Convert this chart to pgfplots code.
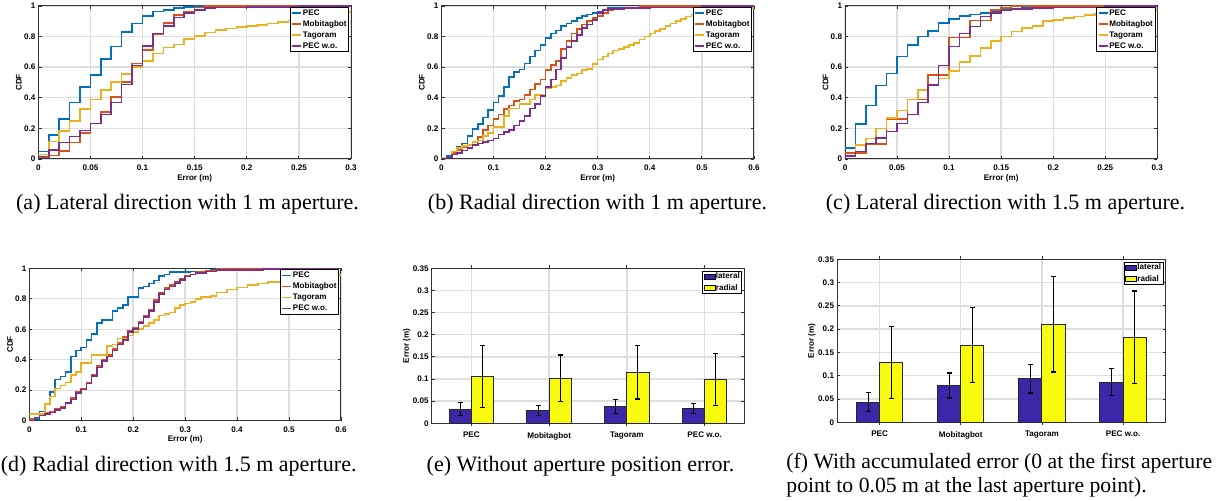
\documentclass[border=0pt]{standalone}
\usepackage{fontspec}
\setmainfont{Liberation Serif}
\newfontfamily\pf{Liberation Sans}
\usepackage{pgfplots}
\pgfplotsset{compat=1.18}

\definecolor{mblue}{RGB}{0,114,189}
\definecolor{morange}{RGB}{217,83,25}
\definecolor{myellow}{RGB}{237,177,32}
\definecolor{mpurple}{RGB}{126,47,142}
\definecolor{pblue}{RGB}{62,38,168}
\definecolor{pyellow}{RGB}{249,251,14}

\newcommand\tf{\pf\bfseries\fontsize{4.05}{4.8}\selectfont}
\newcommand\cf{\fontsize{11}{13}\selectfont}

\pgfplotsset{
  mat/.style={scale only axis, anchor=south west,
    axis line style={black!80, line width=0.5pt},
    tick align=inside, major tick length=1.6pt,
    every tick/.style={black!80, line width=0.4pt},
    grid=major, grid style={black!13, line width=0.7pt},
    tick label style={font=\tf}, label style={font=\tf},
    xticklabel style={inner sep=0pt, yshift=-2.7pt},
    yticklabel style={inner sep=0pt, xshift=-1.3pt},
    legend cell align=left},
  cdf/.style={mat, ymin=0, ymax=1,
    ytick={0,0.2,0.4,0.6,0.8,1}, yticklabels={0,0.2,0.4,0.6,0.8,1},
    xlabel={Error (m)}, ylabel={CDF},
    xlabel style={at={(axis description cs:0.5,-0.124)}, anchor=center},
    ylabel style={at={(axis description cs:-0.062,0.5)}, anchor=center},
    legend style={at={(1,1)}, anchor=north east, xshift=-1pt, yshift=-0.5pt,
      draw=black, line width=0.4pt, inner sep=0.6pt, row sep=1.0pt, font=\tf,
      nodes={inner sep=0.4pt, text height=2.9pt, text depth=0.8pt}},
    legend image code/.code={\draw[#1, line width=0.7pt] (0pt,0pt) -- (4.5pt,0pt);},
    every axis plot/.append style={const plot, line width=0.8pt, no marks}},
  lat/.style={cdf, xmin=0, xmax=0.3,
    xtick={0,0.05,0.1,0.15,0.2,0.25,0.3}, xticklabels={0,0.05,0.1,0.15,0.2,0.25,0.3}},
  rad/.style={cdf, xmin=0, xmax=0.6,
    xtick={0,0.1,0.2,0.3,0.4,0.5,0.6}, xticklabels={0,0.1,0.2,0.3,0.4,0.5,0.6}},
  bars/.style={mat, ybar, ymin=0, ymax=0.35, bar width=0.285,
    ytick={0,0.05,0.1,0.15,0.2,0.25,0.3,0.35},
    yticklabels={0,0.05,0.1,0.15,0.2,0.25,0.3,0.35},
    xtick={1,2,3,4}, xticklabels={PEC,Mobitagbot,Tagoram,PEC w.o.},
    ylabel={Error (m)},
    legend style={at={(1,1)}, anchor=north east, xshift=-1.15pt, yshift=-1.35pt,
      draw=black, line width=0.4pt, inner sep=0.5pt, row sep=1.1pt, font=\tf,
      nodes={inner sep=0.4pt, text height=2.9pt, text depth=0.8pt}},
    every axis plot/.append style={draw=black!85, line width=0.5pt,
      error bars/y dir=both, error bars/y explicit,
      error bars/error mark=-,
      error bars/error bar style={black, line width=0.5pt},
      error bars/error mark options={rotate=90, black, line width=0.6pt, mark size=1.25pt}}},
  barleg/.style={legend image code/.code={\draw[#1, draw=black, line width=0.3pt] (0pt,-1.3pt) rectangle (5.5pt,1.3pt);}}
}

\begin{document}
\begin{tikzpicture}
\useasboundingbox (0,0) rectangle (608pt,250.5pt);

% (a)
\begin{axis}[lat, at={(19.15pt,171pt)}, width=156.35pt, height=76.5pt]
\addplot[mblue] coordinates {(0,0.048)(0.01,0.157)(0.02,0.26)(0.03,0.37)(0.04,0.47)(0.05,0.55)(0.06,0.655)(0.07,0.735)(0.08,0.83)(0.09,0.885)(0.10,0.935)(0.11,0.965)(0.12,0.975)(0.13,0.985)(0.14,0.995)(0.15,1)(0.3,1)};
\addplot[morange] coordinates {(0,0.01)(0.01,0.022)(0.02,0.052)(0.03,0.109)(0.04,0.168)(0.05,0.233)(0.06,0.309)(0.07,0.407)(0.08,0.505)(0.09,0.625)(0.10,0.712)(0.11,0.817)(0.12,0.887)(0.13,0.94)(0.14,0.965)(0.15,0.99)(0.16,1)(0.3,1)};
\addplot[myellow] coordinates {(0,0.03)(0.01,0.113)(0.02,0.183)(0.03,0.25)(0.04,0.327)(0.05,0.39)(0.06,0.45)(0.07,0.505)(0.08,0.556)(0.09,0.603)(0.10,0.64)(0.11,0.69)(0.12,0.728)(0.13,0.749)(0.14,0.784)(0.15,0.804)(0.16,0.828)(0.17,0.843)(0.18,0.852)(0.19,0.862)(0.20,0.87)(0.21,0.875)(0.22,0.885)(0.23,0.895)(0.24,0.905)(0.25,0.915)(0.26,0.93)(0.27,0.94)(0.28,0.95)(0.29,0.96)(0.3,0.97)};
\addplot[mpurple] coordinates {(0,0.015)(0.01,0.06)(0.02,0.107)(0.03,0.146)(0.04,0.185)(0.05,0.233)(0.06,0.29)(0.07,0.368)(0.08,0.486)(0.09,0.61)(0.10,0.739)(0.11,0.82)(0.12,0.871)(0.13,0.926)(0.14,0.956)(0.15,0.975)(0.16,0.985)(0.17,0.99)(0.2,0.995)(0.25,1)(0.3,1)};
\legend{PEC,Mobitagbot,Tagoram,PEC w.o.}
\end{axis}

% (b)
\begin{axis}[rad, at={(220.65pt,171pt)}, width=156.35pt, height=76.5pt]
\addplot[mblue] coordinates {(0,0)(0.01,0.02)(0.02,0.05)(0.03,0.08)(0.04,0.10)(0.05,0.15)(0.06,0.195)(0.07,0.23)(0.08,0.27)(0.09,0.32)(0.10,0.37)(0.11,0.41)(0.12,0.47)(0.13,0.535)(0.14,0.57)(0.15,0.585)(0.16,0.625)(0.17,0.67)(0.18,0.71)(0.19,0.745)(0.20,0.79)(0.21,0.82)(0.22,0.84)(0.23,0.87)(0.24,0.885)(0.25,0.9)(0.26,0.92)(0.27,0.935)(0.28,0.945)(0.29,0.955)(0.30,0.96)(0.31,0.975)(0.32,0.985)(0.34,0.99)(0.40,0.995)(0.50,1)(0.6,1)};
\addplot[morange] coordinates {(0,0.01)(0.02,0.04)(0.03,0.06)(0.04,0.08)(0.05,0.09)(0.06,0.11)(0.07,0.145)(0.08,0.19)(0.09,0.22)(0.10,0.26)(0.11,0.29)(0.12,0.325)(0.13,0.35)(0.14,0.38)(0.15,0.39)(0.16,0.42)(0.17,0.455)(0.18,0.49)(0.19,0.52)(0.20,0.58)(0.21,0.615)(0.22,0.64)(0.23,0.72)(0.24,0.77)(0.25,0.82)(0.26,0.85)(0.27,0.88)(0.28,0.90)(0.29,0.92)(0.30,0.935)(0.31,0.955)(0.32,0.97)(0.33,0.98)(0.35,0.99)(0.38,1)(0.6,1)};
\addplot[myellow] coordinates {(0,0.01)(0.02,0.05)(0.03,0.07)(0.04,0.085)(0.05,0.09)(0.06,0.11)(0.07,0.12)(0.08,0.15)(0.09,0.17)(0.10,0.21)(0.12,0.28)(0.13,0.33)(0.15,0.36)(0.17,0.39)(0.18,0.42)(0.20,0.46)(0.21,0.47)(0.22,0.48)(0.23,0.51)(0.24,0.53)(0.25,0.55)(0.26,0.56)(0.27,0.58)(0.28,0.59)(0.29,0.62)(0.30,0.65)(0.31,0.67)(0.32,0.69)(0.33,0.71)(0.34,0.72)(0.35,0.73)(0.36,0.745)(0.37,0.76)(0.38,0.78)(0.39,0.80)(0.40,0.82)(0.41,0.835)(0.42,0.85)(0.43,0.87)(0.44,0.885)(0.45,0.90)(0.46,0.915)(0.47,0.93)(0.48,0.945)(0.49,0.955)(0.50,0.965)(0.52,0.975)(0.55,0.985)(0.6,0.99)};
\addplot[mpurple] coordinates {(0,0)(0.01,0.01)(0.02,0.03)(0.03,0.04)(0.04,0.055)(0.05,0.07)(0.06,0.09)(0.07,0.10)(0.08,0.11)(0.09,0.12)(0.10,0.135)(0.11,0.16)(0.12,0.175)(0.13,0.19)(0.14,0.22)(0.15,0.25)(0.16,0.28)(0.17,0.33)(0.18,0.36)(0.19,0.41)(0.20,0.47)(0.21,0.52)(0.22,0.585)(0.23,0.66)(0.24,0.73)(0.25,0.77)(0.26,0.81)(0.27,0.855)(0.28,0.88)(0.29,0.91)(0.30,0.955)(0.31,0.975)(0.32,0.98)(0.35,0.985)(0.40,0.99)(0.50,1)(0.6,1)};
\legend{PEC,Mobitagbot,Tagoram,PEC w.o.}
\end{axis}

% (c)
\begin{axis}[lat, at={(422.5pt,171pt)}, width=156.15pt, height=76.5pt]
\addplot[mblue] coordinates {(0,0.07)(0.01,0.227)(0.02,0.35)(0.03,0.48)(0.04,0.56)(0.05,0.669)(0.06,0.745)(0.07,0.80)(0.08,0.837)(0.09,0.887)(0.10,0.915)(0.11,0.935)(0.12,0.945)(0.13,0.955)(0.14,0.965)(0.15,0.975)(0.16,0.98)(0.17,0.985)(0.20,0.99)(0.25,1)(0.3,1)};
\addplot[morange] coordinates {(0,0.04)(0.02,0.098)(0.04,0.26)(0.06,0.388)(0.08,0.549)(0.10,0.793)(0.12,0.904)(0.14,0.975)(0.15,0.985)(0.16,1)(0.3,1)};
\addplot[myellow] coordinates {(0,0.02)(0.01,0.09)(0.02,0.135)(0.03,0.2)(0.04,0.266)(0.05,0.316)(0.06,0.39)(0.07,0.45)(0.08,0.488)(0.09,0.525)(0.10,0.577)(0.11,0.632)(0.12,0.675)(0.13,0.725)(0.14,0.77)(0.15,0.80)(0.16,0.832)(0.17,0.855)(0.18,0.87)(0.19,0.9)(0.20,0.91)(0.21,0.92)(0.22,0.93)(0.23,0.94)(0.24,0.95)(0.25,0.96)(0.26,0.965)(0.28,0.975)(0.3,0.98)};
\addplot[mpurple] coordinates {(0,0.02)(0.01,0.048)(0.02,0.102)(0.03,0.139)(0.04,0.18)(0.05,0.233)(0.06,0.29)(0.07,0.368)(0.08,0.483)(0.09,0.612)(0.10,0.734)(0.11,0.82)(0.12,0.865)(0.13,0.93)(0.14,0.955)(0.15,0.97)(0.16,0.98)(0.18,0.985)(0.20,0.99)(0.25,1)(0.3,1)};
\legend{PEC,Mobitagbot,Tagoram,PEC w.o.}
\end{axis}

% (d)
\begin{axis}[rad, at={(14.65pt,40.15pt)}, width=155.85pt, height=76.2pt]
\addplot[mblue] coordinates {(0,0.005)(0.01,0.01)(0.02,0.06)(0.03,0.11)(0.04,0.19)(0.05,0.27)(0.06,0.29)(0.07,0.32)(0.08,0.42)(0.09,0.46)(0.10,0.48)(0.11,0.53)(0.12,0.57)(0.13,0.64)(0.14,0.66)(0.16,0.72)(0.17,0.74)(0.18,0.76)(0.19,0.81)(0.21,0.87)(0.22,0.88)(0.23,0.9)(0.24,0.92)(0.25,0.95)(0.26,0.96)(0.27,0.975)(0.31,0.98)(0.35,0.99)(0.40,0.995)(0.55,1)(0.6,1)};
\addplot[morange] coordinates {(0,0.01)(0.01,0.02)(0.02,0.04)(0.03,0.05)(0.04,0.06)(0.05,0.075)(0.06,0.09)(0.07,0.12)(0.08,0.15)(0.09,0.19)(0.10,0.21)(0.11,0.25)(0.12,0.30)(0.13,0.36)(0.14,0.40)(0.15,0.43)(0.16,0.47)(0.17,0.51)(0.18,0.55)(0.19,0.59)(0.20,0.61)(0.21,0.65)(0.22,0.69)(0.23,0.73)(0.24,0.79)(0.25,0.84)(0.26,0.87)(0.27,0.89)(0.28,0.91)(0.29,0.93)(0.30,0.95)(0.31,0.96)(0.32,0.975)(0.34,0.985)(0.36,0.995)(0.4,1)(0.6,1)};
\addplot[myellow] coordinates {(0,0.045)(0.03,0.11)(0.04,0.16)(0.05,0.21)(0.06,0.23)(0.07,0.25)(0.08,0.30)(0.09,0.32)(0.10,0.38)(0.12,0.43)(0.15,0.49)(0.16,0.5)(0.17,0.54)(0.19,0.56)(0.20,0.58)(0.21,0.6)(0.22,0.62)(0.23,0.64)(0.24,0.66)(0.25,0.69)(0.26,0.70)(0.27,0.71)(0.28,0.74)(0.29,0.76)(0.30,0.77)(0.31,0.78)(0.32,0.80)(0.33,0.81)(0.35,0.82)(0.36,0.84)(0.38,0.86)(0.40,0.875)(0.42,0.89)(0.44,0.9)(0.46,0.91)(0.50,0.92)(0.52,0.93)(0.55,0.945)(0.58,0.955)(0.6,0.965)};
\addplot[mpurple] coordinates {(0,0.0)(0.01,0.02)(0.02,0.035)(0.03,0.045)(0.04,0.055)(0.05,0.07)(0.06,0.085)(0.07,0.115)(0.08,0.14)(0.09,0.18)(0.10,0.205)(0.11,0.245)(0.12,0.295)(0.13,0.35)(0.14,0.39)(0.15,0.42)(0.16,0.46)(0.17,0.50)(0.18,0.53)(0.19,0.58)(0.20,0.60)(0.21,0.64)(0.22,0.68)(0.23,0.72)(0.24,0.78)(0.25,0.83)(0.26,0.86)(0.27,0.88)(0.28,0.905)(0.29,0.925)(0.30,0.945)(0.31,0.96)(0.32,0.97)(0.34,0.98)(0.36,0.99)(0.45,0.995)(0.55,1)(0.6,1)};
\legend{PEC,Mobitagbot,Tagoram,PEC w.o.}
\end{axis}

% (e)
\begin{axis}[bars, at={(215.85pt,38.85pt)}, width=156.3pt, height=77.5pt,
  xmin=0.49, xmax=4.51,
  ylabel style={at={(axis description cs:-0.08,0.5)}, anchor=center}]
\addplot[fill=pblue, bar shift=-0.1425, barleg] coordinates {
  (1,0.032) += (0,0.015) -= (0,0.014)
  (2,0.029) += (0,0.011) -= (0,0.011)
  (3,0.038) += (0,0.016) -= (0,0.016)
  (4,0.034) += (0,0.011) -= (0,0.011)};
\addplot[fill=pyellow, bar shift=0.1425, barleg] coordinates {
  (1,0.105) += (0,0.070) -= (0,0.070)
  (2,0.101) += (0,0.053) -= (0,0.052)
  (3,0.115) += (0,0.060) -= (0,0.060)
  (4,0.099) += (0,0.058) -= (0,0.058)};
\legend{lateral,radial}
\end{axis}

% (f)
\begin{axis}[bars, at={(418.5pt,39.35pt)}, width=164.35pt, height=81.5pt,
  xmin=0.475, xmax=4.525,
  ylabel style={at={(axis description cs:-0.077,0.5)}, anchor=center}]
\addplot[fill=pblue, bar shift=-0.1425, barleg] coordinates {
  (1,0.043) += (0,0.021) -= (0,0.020)
  (2,0.079) += (0,0.027) -= (0,0.027)
  (3,0.094) += (0,0.030) -= (0,0.031)
  (4,0.085) += (0,0.030) -= (0,0.028)};
\addplot[fill=pyellow, bar shift=0.1425, barleg] coordinates {
  (1,0.128) += (0,0.077) -= (0,0.077)
  (2,0.165) += (0,0.081) -= (0,0.080)
  (3,0.210) += (0,0.103) -= (0,0.102)
  (4,0.182) += (0,0.100) -= (0,0.099)};
\legend{lateral,radial}
\end{axis}

% captions
\node[anchor=base, inner sep=0pt, font=\cf] at (93.75pt,145.5pt) {(a) Lateral direction with 1 m aperture.};
\node[anchor=base, inner sep=0pt, font=\cf] at (298.75pt,145.5pt) {(b) Radial direction with 1 m aperture.};
\node[anchor=base, inner sep=0pt, font=\cf] at (502.75pt,145.5pt) {(c) Lateral direction with 1.5 m aperture.};
\node[anchor=base, inner sep=0pt, font=\cf] at (89.35pt,14.65pt) {(d) Radial direction with 1.5 m aperture.};
\node[anchor=base, inner sep=0pt, font=\cf] at (290.25pt,14.65pt) {(e) Without aperture position error.};
\node[anchor=base west, inner sep=0pt, font=\fontsize{10.85}{13}\selectfont] at (393pt,16.35pt) {(f) With accumulated error (0 at the first aperture};
\node[anchor=base west, inner sep=0pt, font=\fontsize{10.85}{13}\selectfont] at (393pt,4.35pt) {point to 0.05 m at the last aperture point).};
\end{tikzpicture}
\end{document}
